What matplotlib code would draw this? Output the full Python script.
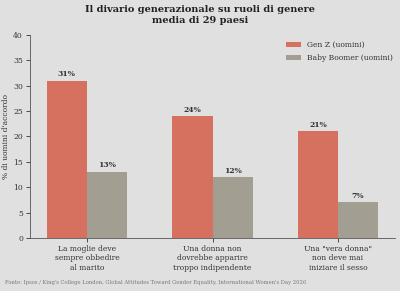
import matplotlib
matplotlib.use("Agg")
import matplotlib.pyplot as plt
import numpy as np

categories = ["La moglie deve\nsempre obbedire\nal marito",
              "Una donna non\ndovrebbe apparire\ntroppo indipendente",
              "Una \"vera donna\"\nnon deve mai\niniziare il sesso"]
genz = [31, 24, 21]
boomer = [13, 12, 7]
series_names = ["Gen Z (uomini)", "Baby Boomer (uomini)"]
yticks = [0, 5, 10, 15, 20, 25, 30, 35, 40]

BG = "#e0e0e0"
RED = "#d6705f"
GRAY = "#a29e91"
TXT = "#333333"

plt.rcParams['font.family'] = ['DejaVu Serif']

fig = plt.figure(figsize=(4, 2.91), dpi=100, facecolor=BG)
ax = fig.add_axes([0.075, 0.182, 0.9125, 0.698], facecolor=BG)

x = np.arange(len(categories))
w = 0.32
b1 = ax.bar(x - w/2, genz, w, color=RED, label=series_names[0])
b2 = ax.bar(x + w/2, boomer, w, color=GRAY, label=series_names[1])

for bars, vals in ((b1, genz), (b2, boomer)):
    for r, v in zip(bars, vals):
        ax.text(r.get_x() + r.get_width()/2, v + 0.5, f"{v}%", ha="center", va="bottom",
                fontsize=5.5, fontweight="bold", color=TXT)

ax.set_xlim(-0.454, 2.454)
ax.set_ylim(0, 40)
ax.set_yticks(yticks)
ax.set_xticks(x)
ax.set_xticklabels(categories, fontsize=5.5, color=TXT, linespacing=1.25)
ax.tick_params(axis='y', labelsize=5.5, colors=TXT, length=3, width=0.6, pad=2)
ax.tick_params(axis='x', length=3, width=0.6, pad=2, colors=TXT)
for s in ("top", "right"):
    ax.spines[s].set_visible(False)
for s in ("left", "bottom"):
    ax.spines[s].set_linewidth(0.6)
    ax.spines[s].set_color("#555555")
ax.set_ylabel("% di uomini d'accordo", fontsize=5.5, color=TXT)
ax.yaxis.set_label_coords(-0.055, 0.5)

leg = ax.legend(loc="upper right", bbox_to_anchor=(1.01, 0.995), frameon=False, fontsize=5.5,
                handlelength=2.0, handleheight=0.6, handletextpad=0.8, labelcolor=TXT,
                borderaxespad=0.3, labelspacing=0.6)

fig.text(0.5, 0.982, "Il divario generazionale su ruoli di genere\nmedia di 29 paesi",
         ha="center", va="top", fontsize=7, fontweight="bold", color="#222222", linespacing=1.2)
fig.text(0.012, 0.028, "Fonte: Ipsos / King's College London, Global Attitudes Toward Gender Equality, International Women's Day 2026",
         ha="left", va="center", fontsize=3.8, color="#777777")

fig.savefig("out.png", dpi=100, facecolor=BG)
